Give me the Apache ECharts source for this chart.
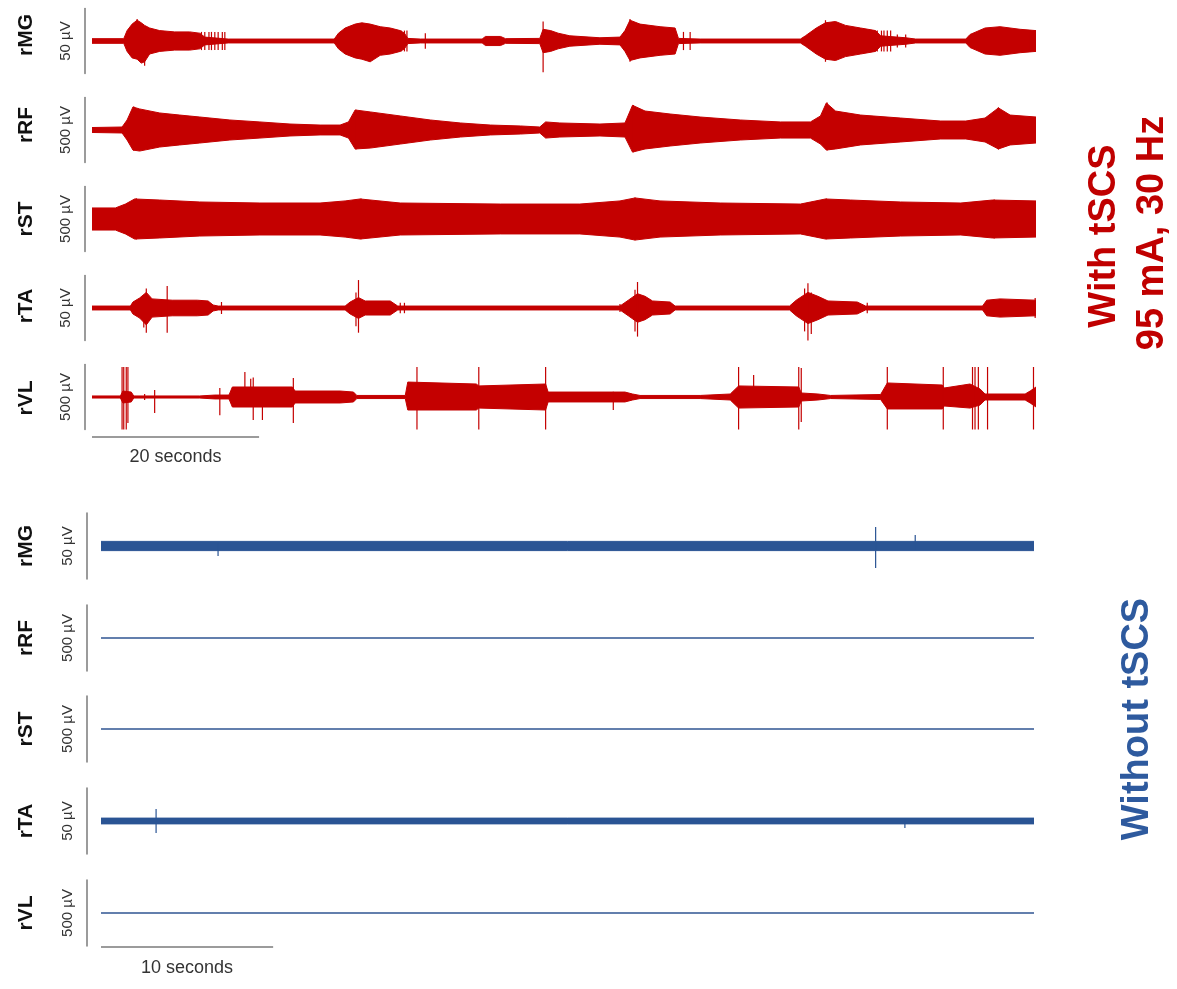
<!DOCTYPE html>
<html><head><meta charset="utf-8">
<script src="https://cdn.jsdelivr.net/npm/echarts@6/dist/echarts.min.js"></script>
<style>html,body{margin:0;padding:0;background:#fff}#c{width:1177px;height:989px}</style>
</head><body><div id="c"></div>
<script>
// ---------------- DATA ----------------
const muscles = ['rMG', 'rRF', 'rST', 'rTA', 'rVL'];
const scaleLabels = ['50 µV', '500 µV', '500 µV', '50 µV', '500 µV'];
const scaleValues = [50, 500, 500, 50, 500];          // µV represented by each vertical scale bar
const topSpanSeconds = 113;
const bottomSpanSeconds = 54.2;
const topScaleSeconds = 20;
const bottomScaleSeconds = 10;
const topScaleLabel = '20 seconds';
const bottomScaleLabel = '10 seconds';
const topTitle = ['With tSCS', '95 mA, 30 Hz'];
const bottomTitle = 'Without tSCS';

// envelopes: [time s, upper µV, lower µV]
const withMG = [[0,1.8,-1.8],[3.8,1.8,-1.8],[4.2,8,-8],[4.8,13,-13],[5.4,16,-14],[5.9,14,-17],[6.3,12,-16],[6.9,10,-10],[8.1,8,-8],[9.9,7,-7],[11.7,7,-7],[12.9,6,-6],[13.5,3,-3],[16.3,1.5,-1.5],[29.0,1.5,-1.5],[29.5,6,-6],[30.3,10,-10],[31.5,13,-13],[32.3,14,-14],[33.3,13,-16],[34.5,11,-11],[35.7,10,-10],[36.9,8,-8],[37.4,6,-6],[37.8,2,-2],[39.3,1.5,-1.5],[46.7,1.5,-1.5],[47.1,3.5,-3.5],[48.9,3.5,-3.5],[49.5,1.8,-1.8],[53.6,2,-2],[54.0,9,-9],[54.9,8,-8],[55.8,6,-6],[57.2,4,-4],[60.8,2.5,-2.5],[63.2,3,-3],[63.8,8,-8],[64.4,16,-15],[65.6,13,-13],[68.0,11,-11],[69.8,10,-10],[70.2,2,-2],[72.8,1.5,-1.5],[84.8,1.5,-1.5],[85.4,4,-4],[86.7,10,-10],[87.8,14,-14],[89.0,15,-15],[90.2,12,-12],[92.0,10,-10],[93.8,8,-8],[94.4,4,-4],[97.4,2.5,-2.5],[98.6,1.5,-1.5],[104.6,1.5,-1.5],[105.1,5,-5],[106.9,10,-10],[108.7,11,-11],[111.1,9,-9],[113,8,-8]];
const withRF = [[0,19,-19],[3.6,23,-23],[4.2,77,-77],[4.9,177,-154],[5.7,162,-162],[8.1,131,-131],[10.5,115,-115],[12.9,100,-100],[16.5,77,-77],[20.1,62,-62],[23.7,46,-46],[27.3,38,-38],[29.7,38,-38],[30.7,62,-62],[31.5,154,-146],[33.3,139,-139],[36.9,108,-108],[40.5,77,-77],[44.1,54,-54],[47.7,38,-38],[51.3,31,-31],[53.6,23,-23],[54.3,62,-62],[56.0,54,-54],[60.8,46,-46],[63.8,54,-54],[64.7,190,-170],[66.2,146,-146],[69.2,123,-123],[72.8,100,-100],[77.6,77,-77],[82.4,62,-62],[86.0,62,-62],[87.2,108,-108],[87.9,208,-154],[89.0,146,-146],[92.0,115,-115],[96.8,92,-92],[101.6,69,-69],[104.6,69,-69],[106.9,92,-92],[108.5,170,-146],[109.9,115,-115],[113,100,-100]];
const withST = [[0,85,-85],[2.8,85,-85],[4.0,115,-115],[5.1,154,-154],[8.1,146,-146],[12.9,131,-131],[20.1,123,-123],[27.3,123,-123],[30.3,139,-139],[32.1,154,-154],[36.9,123,-123],[48.9,115,-115],[58.4,115,-115],[63.2,139,-139],[65.0,162,-162],[68.0,139,-139],[75.2,123,-123],[84.8,115,-115],[87.8,154,-154],[90.8,146,-146],[96.8,131,-131],[104.0,123,-123],[107.8,146,-146],[113,139,-139]];
const withTA = [[0,1.5,-1.5],[4.6,1.5,-1.5],[4.9,4.6,-4.6],[5.7,7.7,-7.7],[6.5,12,-13],[7.2,7,-7],[9.6,6,-6],[12.6,6,-6],[13.9,5.4,-5.4],[14.5,2.3,-2.3],[15.1,1.5,-1.5],[30.3,1.5,-1.5],[30.9,4.6,-4.6],[31.9,8,-8],[32.7,5.4,-5.4],[35.7,5.4,-5.4],[36.6,1.5,-1.5],[63.2,1.5,-1.5],[64.2,6,-6],[65.3,11,-11],[66.2,9,-9],[67.1,5.4,-5.4],[69.2,4.6,-4.6],[69.8,1.5,-1.5],[83.5,1.5,-1.5],[84.3,6,-6],[85.7,12,-12],[86.9,9,-9],[88.1,5.4,-5.4],[91.6,4.6,-4.6],[92.6,1.5,-1.5],[106.6,1.5,-1.5],[107.1,6,-6],[108.7,7,-7],[113,6,-6]];
const withVL = [[0,8,-8],[3.4,8,-8],[3.7,46,-46],[4.7,38,-38],[5.0,8,-8],[12.9,8,-8],[14.7,15,-15],[16.4,15,-15],[16.8,77,-77],[24.0,77,-77],[24.3,46,-46],[29.7,46,-46],[31.3,38,-38],[31.7,12,-12],[37.5,12,-12],[37.8,115,-100],[46.0,100,-100],[46.3,85,-85],[54.3,100,-100],[54.6,38,-38],[63.8,38,-38],[64.7,23,-23],[65.6,12,-12],[72.8,12,-12],[76.4,23,-23],[77.4,85,-85],[84.6,77,-77],[84.9,31,-31],[86.9,23,-23],[88.4,12,-12],[94.4,19,-19],[95.2,108,-92],[101.8,92,-92],[102.0,69,-69],[105.1,100,-85],[106.3,62,-62],[106.9,23,-23],[111.7,23,-23],[112.3,46,-46],[113,77,-77]];

// isolated spikes: [time s, top µV, bottom µV]
const withMGSpikes = [[5.4,17,-12],[6.3,10,-19],[13.1,7,-7],[13.5,7,-7],[14.0,7,-7],[14.3,7,-7],[14.7,7,-7],[15.1,7,-7],[15.6,7,-7],[15.9,7,-7],[37.0,8,-8],[37.4,8,-8],[37.7,8,-8],[39.9,6,-6],[54.0,15,-24],[64.4,17,-16],[70.8,7,-7],[71.6,7,-7],[87.8,16,-16],[94.0,8,-8],[94.5,8,-8],[94.8,8,-8],[95.2,8,-8],[95.6,8,-8],[96.4,5,-5],[97.4,5,-5],[112.3,8,-8],[112.8,8,-8]];
const withRFSpikes = [[5.0,180,-160],[31.6,156,-150],[64.8,192,-172],[88.0,212,-158],[108.5,174,-150]];
const withSTSpikes = [[5.3,160,-158],[32.2,158,-156],[65.0,166,-164],[87.9,158,-156],[108.0,150,-150]];
const withTASpikes = [[6.2,10,-15],[6.5,15,-19],[9.0,17,-19],[15.5,4.6,-4.6],[31.6,12,-14],[31.9,21.5,-19],[36.9,4,-4],[37.4,4,-4],[63.2,3,-3],[65.0,14,-18],[65.3,20,-22],[85.3,15,-18],[85.7,19,-25],[86.1,12,-20],[92.8,4,-4],[112.9,7.7,-7.7]];
const withVLSpikes = [[3.6,231,-250],[3.8,231,-250],[4.1,231,-250],[4.3,231,-200],[6.3,23,-23],[7.5,54,-123],[15.3,70,-140],[18.3,193,-40],[19.0,140,-60],[19.3,150,-177],[20.4,60,-177],[24.1,146,-200],[38.9,231,-250],[46.3,231,-250],[54.3,231,-250],[62.4,40,-100],[77.4,231,-250],[79.2,170,-60],[84.6,231,-250],[84.9,223,-193],[95.2,231,-250],[101.9,231,-250],[105.4,231,-250],[105.7,231,-250],[106.1,231,-250],[107.2,231,-250],[112.7,231,-250]];

const withoutMG = [[0,3.5,-3.5],[54.2,3.5,-3.5]];
const withoutRF = [[0,0.5,-0.5],[54.2,0.5,-0.5]];
const withoutST = [[0,0.5,-0.5],[54.2,0.5,-0.5]];
const withoutTA = [[0,2.2,-2.2],[54.2,2.2,-2.2]];
const withoutVL = [[0,0.5,-0.5],[54.2,0.5,-0.5]];
const withoutMGSpikes = [[6.8,2,-7.6],[45.0,14.4,-16.7],[47.3,8.3,-3]];
const withoutRFSpikes = [];
const withoutSTSpikes = [];
const withoutTASpikes = [[3.2,9,-9],[46.7,1,-5.3]];
const withoutVLSpikes = [];

// ---------------- LAYOUT / STYLE ----------------
const RED = '#c40000', BLUE = '#2a5494', GREY = '#7a7a7a', TXT = '#333333';
const FONT = '"Liberation Sans", Arial, sans-serif';
const panels = [
  {env: [withMG, withRF, withST, withTA, withVL], spikes: [withMGSpikes, withRFSpikes, withSTSpikes, withTASpikes, withVLSpikes],
   centers: [41, 130, 219, 308, 397], labelDy: [-6, -5, 0, -2, 1], h: 65, left: 92, width: 944, offset: 7, span: topSpanSeconds, color: RED,
   scaleSec: topScaleSeconds, scaleLabel: topScaleLabel, barY: 437, labelY: 457},
  {env: [withoutMG, withoutRF, withoutST, withoutTA, withoutVL], spikes: [withoutMGSpikes, withoutRFSpikes, withoutSTSpikes, withoutTASpikes, withoutVLSpikes],
   centers: [546, 638, 729, 821, 913], labelDy: [0, 0, 0, 0, 0], h: 66, left: 101, width: 933, offset: 14, span: bottomSpanSeconds, color: BLUE,
   scaleSec: bottomScaleSeconds, scaleLabel: bottomScaleLabel, barY: 947, labelY: 968}
];

const grid = [], xAxis = [], yAxis = [], series = [], graphic = [];
panels.forEach((p) => {
  muscles.forEach((m, i) => {
    const gi = grid.length;
    grid.push({left: p.left, width: p.width, top: p.centers[i] - p.h / 2, height: p.h});
    xAxis.push({gridIndex: gi, type: 'value', min: 0, max: p.span, show: false});
    yAxis.push({gridIndex: gi, type: 'value', min: -scaleValues[i] / 2, max: scaleValues[i] / 2, offset: p.offset,
      axisLine: {show: true, onZero: false, lineStyle: {color: GREY, width: 1.5}}, axisTick: {show: false}, axisLabel: {show: false}, splitLine: {show: false},
      name: scaleLabels[i], nameLocation: 'middle', nameGap: 12, nameRotate: 90,
      nameTextStyle: {fontSize: 15, color: TXT, fontFamily: FONT}});
    const env = p.env[i];
    const flat = env.every(d => Math.abs(d[1]) < 1);
    if (flat) {
      series.push({type: 'line', xAxisIndex: gi, yAxisIndex: gi, data: env.map(d => [d[0], 0]), symbol: 'none', silent: true,
        lineStyle: {color: '#2f5592', width: 1.4}});
    } else {
      series.push({type: 'line', xAxisIndex: gi, yAxisIndex: gi, data: env.map(d => [d[0], d[1]]), symbol: 'none', silent: true,
        lineStyle: {color: p.color, width: 1}, areaStyle: {color: p.color, opacity: 1, origin: 0}});
      series.push({type: 'line', xAxisIndex: gi, yAxisIndex: gi, data: env.map(d => [d[0], d[2]]), symbol: 'none', silent: true,
        lineStyle: {color: p.color, width: 1}, areaStyle: {color: p.color, opacity: 1, origin: 0}});
    }
    const col = p.color;
    series.push({type: 'custom', xAxisIndex: gi, yAxisIndex: gi, data: p.spikes[i], silent: true, z: 3,
      encode: {x: 0, y: [1, 2]},
      renderItem: (params, api) => {
        const a = api.coord([api.value(0), api.value(1)]);
        const b = api.coord([api.value(0), api.value(2)]);
        return {type: 'line', shape: {x1: a[0], y1: a[1], x2: b[0], y2: b[1]}, style: {stroke: col, lineWidth: 1.2}};
      }});
    graphic.push({type: 'text', x: 26, y: p.centers[i] + p.labelDy[i], rotation: Math.PI / 2,
      style: {text: m, font: 'bold 21px ' + FONT, fill: '#111', align: 'center', verticalAlign: 'middle'}});
  });
  // time scale bar
  const gi = grid.length;
  grid.push({left: p.left, width: p.width, top: p.barY - 1, height: 2});
  xAxis.push({gridIndex: gi, type: 'value', min: 0, max: p.span, show: false});
  yAxis.push({gridIndex: gi, type: 'value', min: 0, max: 1, show: false});
  series.push({type: 'line', xAxisIndex: gi, yAxisIndex: gi, data: [[0, 0.5], [p.scaleSec, 0.5]], symbol: 'none', silent: true,
    lineStyle: {color: GREY, width: 1.5}});
  graphic.push({type: 'text', x: p.left + p.width * (p.scaleSec / p.span) / 2, y: p.labelY,
    style: {text: p.scaleLabel, font: '18px ' + FONT, fill: TXT, align: 'center', verticalAlign: 'middle'}});
});

graphic.push({type: 'text', x: 1105, y: 236, rotation: Math.PI / 2,
  style: {text: topTitle[0], font: 'bold 38px ' + FONT, fill: '#c00000', align: 'center', verticalAlign: 'middle'}});
graphic.push({type: 'text', x: 1153, y: 233, rotation: Math.PI / 2,
  style: {text: topTitle[1], font: 'bold 38px ' + FONT, fill: '#c00000', align: 'center', verticalAlign: 'middle'}});
graphic.push({type: 'text', x: 1138, y: 719, rotation: Math.PI / 2,
  style: {text: bottomTitle, font: 'bold 38px ' + FONT, fill: '#2e5a9e', align: 'center', verticalAlign: 'middle'}});

const chart = echarts.init(document.getElementById('c'), null, {renderer: 'canvas'});
chart.setOption({animation: false, backgroundColor: '#fff', grid, xAxis, yAxis, series, graphic});
</script>
</body></html>
